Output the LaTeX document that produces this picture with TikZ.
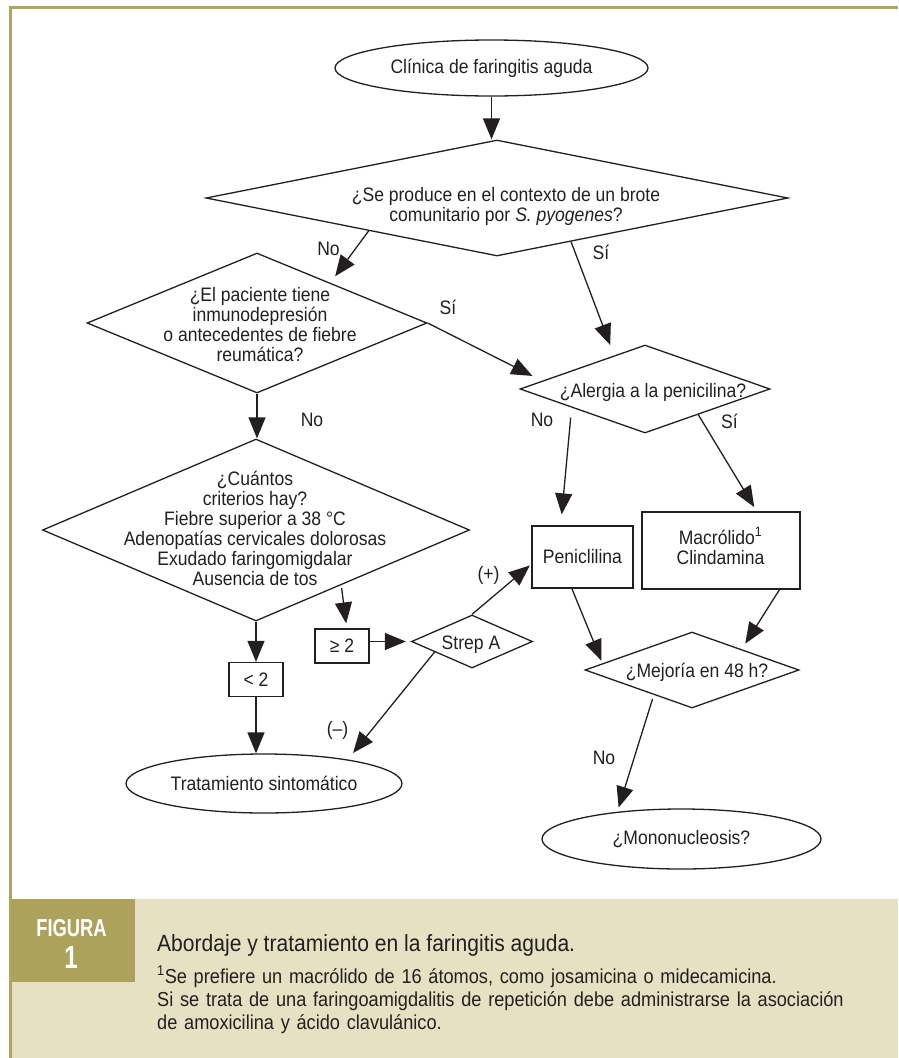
\documentclass[tikz,border=0pt]{standalone}
\usepackage{fontspec}
\setmainfont{Liberation Sans}[FakeStretch=0.9]
\newfontfamily\plaquefont{Liberation Sans}[FakeStretch=0.75]
\usetikzlibrary{arrows.meta,shapes.geometric,calc}
\definecolor{ink}{HTML}{231F20}
\definecolor{olive}{HTML}{B0A55F}
\definecolor{plaque}{HTML}{ADA25C}
\definecolor{panel}{HTML}{E6E1C2}
\tikzset{
  every node/.style={text=ink, font=\fontsize{19.5pt}{20pt}\selectfont},
  shape line/.style={draw=ink, line width=1.3pt},
  oval/.style={shape line, ellipse, inner sep=0pt},
  decision/.style={shape line, diamond, inner sep=0pt},
  stepbox/.style={shape line, rectangle, inner sep=0pt},
  flow/.style={draw=ink, line width=1.3pt, -{Triangle[length=21pt,width=17pt]}},
  label text/.style={align=center, inner sep=0pt},
  branch/.style={inner sep=0pt},
}
\begin{document}
\begin{tikzpicture}[x=1pt,y=-1pt]
\path[use as bounding box] (0,0) rectangle (898,1058);

% frame and caption panel
\fill[panel] (9,899) rectangle (898,1058);
\fill[plaque] (9,899) rectangle (135,982);
\fill[olive] (9,6) rectangle (898,9);
\fill[olive] (9,6) rectangle (12,1058);

% shapes
\node[oval, minimum width=313pt, minimum height=56pt] (start) at (491.5,68) {Clínica de faringitis aguda};

\node[decision, minimum width=582pt, minimum height=116pt] (brote) at (497,198) {};
\node[label text] (brote-t) at (506,206.5) {¿Se produce en el contexto de un brote\\comunitario por \textit{S. pyogenes}?};

\node[decision, minimum width=340pt, minimum height=140pt] (riesgo) at (257,323) {};
\node[label text] (riesgo-t) at (260,324.4) {¿El paciente tiene\\inmunodepresión\\o antecedentes de fiebre\\reumática?};

\node[decision, minimum width=250pt, minimum height=88pt] (alergia) at (645,389) {};
\node[label text] (alergia-t) at (653,392) {¿Alergia a la penicilina?};

\node[decision, minimum width=427pt, minimum height=182pt] (criterios) at (256,530) {};
\node[label text] (criterios-t) at (255,528.4) {¿Cuántos\\criterios hay?\\Fiebre superior a 38 °C\\Adenopatías cervicales dolorosas\\Exudado faringomigdalar\\Ausencia de tos};

\node[stepbox, minimum width=101pt, minimum height=62pt] (peni) at (582.5,557) {Peniclilina};
\node[stepbox, minimum width=158pt, minimum height=77pt] (macro) at (721,550.5) {};
\node[label text] (macro-t) at (720.5,546) {Macrólido\textsuperscript{1}\\Clindamina};

\node[decision, minimum width=214pt, minimum height=76pt] (mejoria) at (692,670) {};
\node[label text] (mejoria-t) at (697,672) {¿Mejoría en 48 h?};

\node[oval, minimum width=279pt, minimum height=60pt] (mono) at (681.5,839) {¿Mononucleosis?};

\node[stepbox, minimum width=54pt, minimum height=34pt] (menor) at (256,679.5) {< 2};
\node[stepbox, minimum width=54pt, minimum height=34pt] (mayor) at (342,646) {≥ 2};

\node[decision, minimum width=121pt, minimum height=53pt] (strep) at (472,641.5) {};
\node[label text] (strep-t) at (471,645) {Strep A};

\node[oval, minimum width=276pt, minimum height=59pt] (sintom) at (264,783.5) {Tratamiento sintomático};

% connectors
\draw[flow] (start.south) -- (start.south |- brote.north);
\draw[flow, shorten >=8pt] ($(brote.south)!0.44!(brote.west)$) -- ($(riesgo.north)!0.43!(riesgo.east)$);
\draw[flow, shorten >=11pt] ($(brote.south)!0.254!(brote.east)$) -- ($(alergia.north)!0.246!(alergia.west)$);
\draw[flow, shorten >=11pt] (riesgo.east) -- ($(alergia.west)!0.182!(alergia.north)$);
\draw[flow] (riesgo.south) -- (riesgo.south |- criterios.north);
\draw[flow, shorten <=10pt, shorten >=11pt] ($(alergia.south)!0.584!(alergia.west)$) -- ($(peni.north west)!0.287!(peni.north east)$);
\draw[flow, shorten >=5pt] ($(alergia.south)!0.424!(alergia.east)$) -- ($(macro.north west)!0.725!(macro.north east)$);
\draw[flow, shorten >=3pt] ($(peni.south west)!0.396!(peni.south east)$) -- ($(mejoria.west)!0.169!(mejoria.north)$);
\draw[flow, shorten >=6.6pt] ($(macro.south west)!0.867!(macro.south east)$) -- ($(mejoria.north)!0.462!(mejoria.east)$);
\draw[flow, shorten <=4pt, shorten >=4.4pt] ($(mejoria.south)!0.355!(mejoria.west)$) -- (mono.157);
\draw[flow, shorten <=3pt, shorten >=5pt] ($(criterios.south)!0.398!(criterios.east)$) -- ($(mayor.north west)!0.587!(mayor.north east)$);
\draw[flow] (criterios.south) -- (menor.north);
\draw[flow] (menor.south) -- (menor.south |- sintom.north);
\draw[flow, shorten >=5pt] (mayor.east |- strep.west) -- (strep.west);
\draw[flow, shorten >=2pt] (strep.north) -- ($(peni.north west)!0.613!(peni.south west)$);
\draw[flow, shorten >=8.4pt] ($(strep.south)!0.612!(strep.west)$) -- (sintom.16.6);

% branch labels
\node[branch] (no-brote) at (328.5,249) {No};
\node[branch] (si-brote) at (601,252) {Sí};
\node[branch] (si-riesgo) at (448,307) {Sí};
\node[branch] (no-riesgo) at (312,420) {No};
\node[branch] (no-alergia) at (542,420) {No};
\node[branch] (si-alergia) at (729.5,421) {Sí};
\node[branch] (pos) at (488.5,575) {(+)};
\node[branch] (neg) at (337.5,730) {(–)};
\node[branch] (no-mejoria) at (604,758) {No};

% caption
\node[text=white, inner sep=0pt, font=\plaquefont\bfseries\fontsize{24.5pt}{25pt}\selectfont] (fig-word) at (71.5,928) {FIGURA};
\node[text=white, inner sep=0pt, font=\plaquefont\bfseries\fontsize{32pt}{32pt}\selectfont] (fig-num) at (71,957.5) {1};
\node[anchor=base west, inner sep=0pt, font=\fontsize{23.4pt}{25pt}\selectfont] (caption) at (157,951.7) {Abordaje y tratamiento en la faringitis aguda.};
\node[anchor=base west, inner sep=0pt, text width=740pt, align=left, font=\fontsize{20.2pt}{23.3pt}\selectfont] (note) at (157,983.3) {\textsuperscript{1}Se prefiere un macrólido de 16 átomos, como josamicina o midecamicina.\\Si se trata de una faringoamigdalitis de repetición debe administrarse la asociación\\de amoxicilina y ácido clavulánico.};
\end{tikzpicture}
\end{document}
